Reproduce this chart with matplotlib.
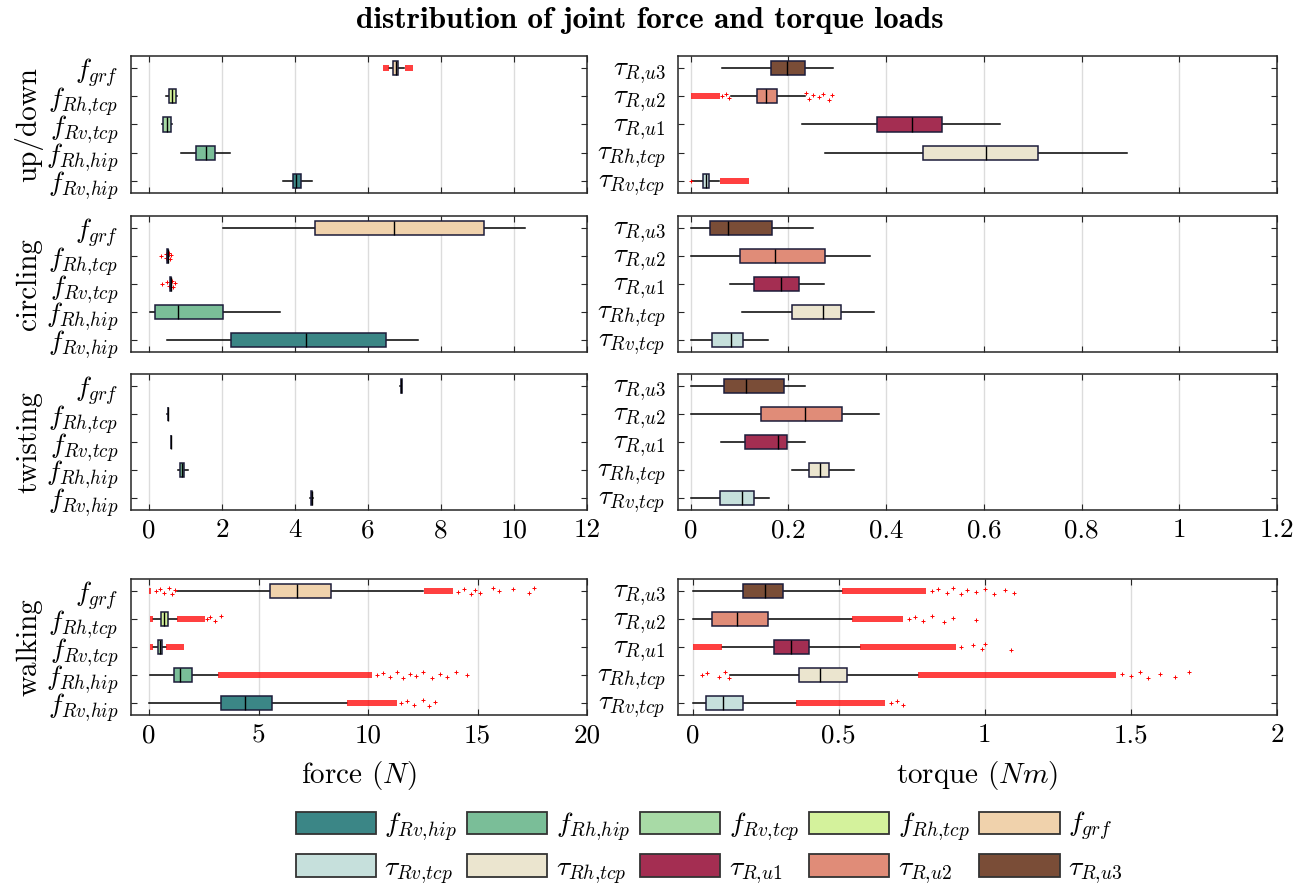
import matplotlib
matplotlib.use("Agg")
import matplotlib.pyplot as plt
from matplotlib.patches import Patch, Rectangle
from matplotlib.ticker import FuncFormatter, FixedLocator

plt.rcParams['mathtext.fontset'] = 'cm'
plt.rcParams['font.family'] = 'cmr10'
plt.rcParams['axes.formatter.use_mathtext'] = True

# ---------------- data ----------------
motions = ['up/down', 'circling', 'twisting', 'walking']

force_names = [r'$f_{Rv{,}hip}$', r'$f_{Rh{,}hip}$', r'$f_{Rv{,}tcp}$', r'$f_{Rh{,}tcp}$', r'$f_{grf}$']
torque_names = [r'$\tau_{Rv{,}tcp}$', r'$\tau_{Rh{,}tcp}$', r'$\tau_{R{,}u1}$', r'$\tau_{R{,}u2}$', r'$\tau_{R{,}u3}$']

force_colors = ['#3b8686', '#7abe98', '#a8daa6', '#d4f29c', '#f0d2ac']
torque_colors = ['#c6e0dc', '#ebe5cf', '#a42e52', '#e08c78', '#7a4d37']

# box statistics: [whisker low, q1, median, q3, whisker high], order as *_names
force_updown = [[3.67, 3.93, 4.03, 4.15, 4.45],
                [0.88, 1.28, 1.55, 1.79, 2.21],
                [0.36, 0.39, 0.48, 0.59, 0.63],
                [0.47, 0.53, 0.62, 0.73, 0.77],
                [6.58, 6.69, 6.76, 6.82, 6.98]]
force_circling = [[0.49, 2.25, 4.30, 6.48, 7.38],
                  [0.02, 0.15, 0.79, 2.01, 3.59],
                  [0.57, 0.58, 0.59, 0.60, 0.61],
                  [0.49, 0.50, 0.51, 0.52, 0.53],
                  [2.03, 4.54, 6.72, 9.19, 10.30]]
force_twisting = [[4.40, 4.43, 4.45, 4.47, 4.50],
                  [0.80, 0.85, 0.90, 0.95, 1.06],
                  [0.59, 0.595, 0.60, 0.605, 0.61],
                  [0.50, 0.505, 0.51, 0.515, 0.52],
                  [6.88, 6.895, 6.91, 6.925, 6.94]]
force_walking = [[0.00, 3.29, 4.36, 5.61, 9.05],
                 [0.04, 1.12, 1.41, 1.94, 3.15],
                 [0.18, 0.40, 0.49, 0.58, 0.76],
                 [0.18, 0.54, 0.69, 0.85, 1.25],
                 [1.27, 5.50, 6.77, 8.32, 12.52]]

torque_updown = [[0.002, 0.025, 0.031, 0.037, 0.058],
                 [0.274, 0.475, 0.604, 0.711, 0.893],
                 [0.227, 0.381, 0.453, 0.515, 0.634],
                 [0.082, 0.135, 0.154, 0.176, 0.233],
                 [0.065, 0.165, 0.197, 0.233, 0.292]]
torque_circling = [[0.000, 0.043, 0.082, 0.107, 0.159],
                   [0.105, 0.207, 0.271, 0.307, 0.376],
                   [0.081, 0.129, 0.184, 0.222, 0.272],
                   [0.000, 0.101, 0.172, 0.275, 0.366],
                   [0.000, 0.040, 0.077, 0.167, 0.250]]
torque_twisting = [[0.000, 0.059, 0.105, 0.129, 0.160],
                   [0.208, 0.242, 0.265, 0.284, 0.334],
                   [0.061, 0.112, 0.179, 0.198, 0.233],
                   [0.000, 0.143, 0.233, 0.309, 0.385],
                   [0.000, 0.068, 0.113, 0.191, 0.233]]
torque_walking = [[0.000, 0.047, 0.104, 0.171, 0.353],
                  [0.127, 0.365, 0.437, 0.528, 0.771],
                  [0.100, 0.278, 0.336, 0.397, 0.573],
                  [0.000, 0.066, 0.153, 0.258, 0.544],
                  [0.000, 0.171, 0.247, 0.309, 0.510]]

# outliers: dense clusters as (from, to) ranges, sparse ones as single values
# keyed by index into *_names
force_updown_bands = {4: [(6.42, 6.58), (7.00, 7.24)]}
force_updown_points = {}
force_circling_bands = {}
force_circling_points = {3: [0.33, 0.45, 0.47, 0.55, 0.57, 0.60],
                         2: [0.36, 0.50, 0.55, 0.63, 0.66, 0.70]}
force_walking_bands = {4: [(0.00, 0.08), (12.57, 13.9)],
                       3: [(0.02, 0.18), (1.25, 2.55)],
                       2: [(0.05, 0.18), (0.76, 1.57)],
                       1: [(3.15, 10.2)],
                       0: [(9.05, 11.3)]}
force_walking_points = {4: [0.3, 0.5, 0.7, 0.9, 1.05, 1.2, 14.1, 14.4, 14.7, 14.9, 15.1, 15.7, 16.0, 16.6, 17.35, 17.6],
                        3: [2.65, 2.8, 3.0, 3.3],
                        1: [10.4, 10.7, 11.0, 11.3, 11.6, 11.9, 12.2, 12.5, 12.9, 13.3, 13.6, 14.0, 14.5],
                        0: [11.5, 11.8, 12.1, 12.5, 12.8, 13.05]}

torque_updown_bands = {3: [(0.000, 0.060)], 0: [(0.060, 0.119)]}
torque_updown_points = {3: [0.065, 0.072, 0.078, 0.237, 0.243, 0.250, 0.262, 0.270, 0.283, 0.290],
                        0: [0.000]}
torque_walking_bands = {4: [(0.51, 0.80)],
                        3: [(0.544, 0.72)],
                        2: [(0.000, 0.100), (0.573, 0.90)],
                        1: [(0.771, 1.45)],
                        0: [(0.353, 0.66)]}
torque_walking_points = {4: [0.82, 0.84, 0.87, 0.89, 0.92, 0.94, 0.97, 1.00, 1.03, 1.07, 1.10],
                         3: [0.74, 0.76, 0.79, 0.82, 0.86, 0.89, 0.97],
                         2: [0.92, 0.96, 0.99, 1.00, 1.09],
                         1: [0.032, 0.05, 0.09, 0.11, 0.124, 1.47, 1.50, 1.53, 1.56, 1.60, 1.65, 1.70],
                         0: [0.68, 0.70, 0.72]}

force_stats = [force_updown, force_circling, force_twisting, force_walking]
torque_stats = [torque_updown, torque_circling, torque_twisting, torque_walking]
force_bands = [force_updown_bands, force_circling_bands, {}, force_walking_bands]
force_points = [force_updown_points, force_circling_points, {}, force_walking_points]
torque_bands = [torque_updown_bands, {}, {}, torque_walking_bands]
torque_points = [torque_updown_points, {}, {}, torque_walking_points]

force_xlim = [(-0.5, 12), (-0.83, 20)]
torque_xlim = [(-0.026, 1.2), (-0.05, 2)]
force_ticks = [[0, 2, 4, 6, 8, 10, 12], [0, 5, 10, 15, 20]]
torque_ticks = [[0, 0.2, 0.4, 0.6, 0.8, 1.0, 1.2], [0, 0.5, 1.0, 1.5, 2.0]]

# ---------------- layout ----------------
W, H = 1304, 888
fig = plt.figure(figsize=(W / 100, H / 100), dpi=100)
rows_px = [(56, 193), (216, 352), (374, 510), (579, 715)]
left_px = (131, 587)
right_px = (678, 1277)

EDGE = '#1c1c3a'
AXC = '#262626'
jitter = [0.0, 0.07, -0.06, 0.11, -0.10, 0.04, -0.03, 0.09, -0.12, 0.05, -0.08, 0.12]
fmt = FuncFormatter(lambda v, p: ('%g' % round(v, 3)))


def rect(xpx, ypx):
    return [xpx[0] / W, 1 - ypx[1] / H, (xpx[1] - xpx[0]) / W, (ypx[1] - ypx[0]) / H]


def draw_panel(ax, stats, colors, names, bands, points, xlim, ticks, show_xlabels):
    bstats = []
    for s in stats:
        bstats.append(dict(whislo=s[0], q1=s[1], med=s[2], q3=s[3], whishi=s[4], fliers=[]))
    pos = list(range(1, len(stats) + 1))
    for x in ticks:
        ax.axvline(x, color='#dcdcdc', lw=1.0, zorder=0)
    bp = ax.bxp(bstats, positions=pos, widths=0.5, orientation='horizontal',
                patch_artist=True, showcaps=False, showfliers=False,
                boxprops=dict(edgecolor=EDGE, linewidth=1.1),
                whiskerprops=dict(color='black', linewidth=1.1),
                medianprops=dict(color='black', linewidth=1.0))
    for patch, c in zip(bp['boxes'], colors):
        patch.set_facecolor(c)
        patch.set_zorder(3)
    for m in bp['medians']:
        m.set_zorder(4)
    for k, rngs in bands.items():
        for lo, hi in rngs:
            ax.add_patch(Rectangle((lo, pos[k] - 0.1), hi - lo, 0.2, facecolor='red',
                                   edgecolor='none', alpha=0.75, zorder=2))
    for k, vals in points.items():
        ys = [pos[k] + jitter[i % len(jitter)] for i in range(len(vals))]
        ax.plot(vals, ys, linestyle='none', marker='+', ms=2.5, mew=0.7, color='red', zorder=2)
    ax.set_xlim(*xlim)
    ax.set_ylim(0.57, 5.43)
    ax.xaxis.set_major_locator(FixedLocator(ticks))
    ax.xaxis.set_major_formatter(fmt)
    ax.set_yticks(pos)
    ax.set_yticklabels(names)
    ax.tick_params(direction='in', top=True, right=True, length=4, width=0.8,
                   color=AXC, labelsize=19.5, pad=6)
    ax.tick_params(axis='y', labelsize=19.5, pad=9)
    if not show_xlabels:
        ax.tick_params(labelbottom=False)
    for sp in ax.spines.values():
        sp.set_color(AXC)
        sp.set_linewidth(1.1)


for r in range(4):
    axl = fig.add_axes(rect(left_px, rows_px[r]))
    axr = fig.add_axes(rect(right_px, rows_px[r]))
    wk = 1 if r == 3 else 0
    show = r >= 2
    draw_panel(axl, force_stats[r], force_colors, force_names, force_bands[r], force_points[r],
               force_xlim[wk], force_ticks[wk], show)
    draw_panel(axr, torque_stats[r], torque_colors, torque_names, torque_bands[r], torque_points[r],
               torque_xlim[wk], torque_ticks[wk], show)
    yc = 1 - (rows_px[r][0] + rows_px[r][1]) / 2 / H
    fig.text(29 / W, yc, motions[r], rotation=90, ha='center', va='center', fontsize=21)

fig.text(359 / W, 1 - 775 / H, r'force ($N$)', ha='center', va='center', fontsize=21)
fig.text(977 / W, 1 - 775 / H, r'torque ($Nm$)', ha='center', va='center', fontsize=21)
fig.text(650 / W, 1 - 21 / H, 'distribution of joint force and torque loads', ha='center',
         va='center', fontsize=22.5, family='cmb10')

# legend (row-wise order)
handles = []
labels = []
for i in range(5):
    handles.append(Patch(facecolor=force_colors[i], edgecolor='#333333', linewidth=1.3))
    labels.append(force_names[i])
    handles.append(Patch(facecolor=torque_colors[i], edgecolor='#333333', linewidth=1.3))
    labels.append(torque_names[i])
fig.legend(handles, labels, ncol=5, loc='center', bbox_to_anchor=(709 / W, 1 - 848 / H),
           frameon=False, fontsize=20, handlelength=2.9, handleheight=0.87,
           handletextpad=0.3, columnspacing=0.35, labelspacing=0.4, borderpad=0.1)

fig.savefig('out.png', dpi=100)
